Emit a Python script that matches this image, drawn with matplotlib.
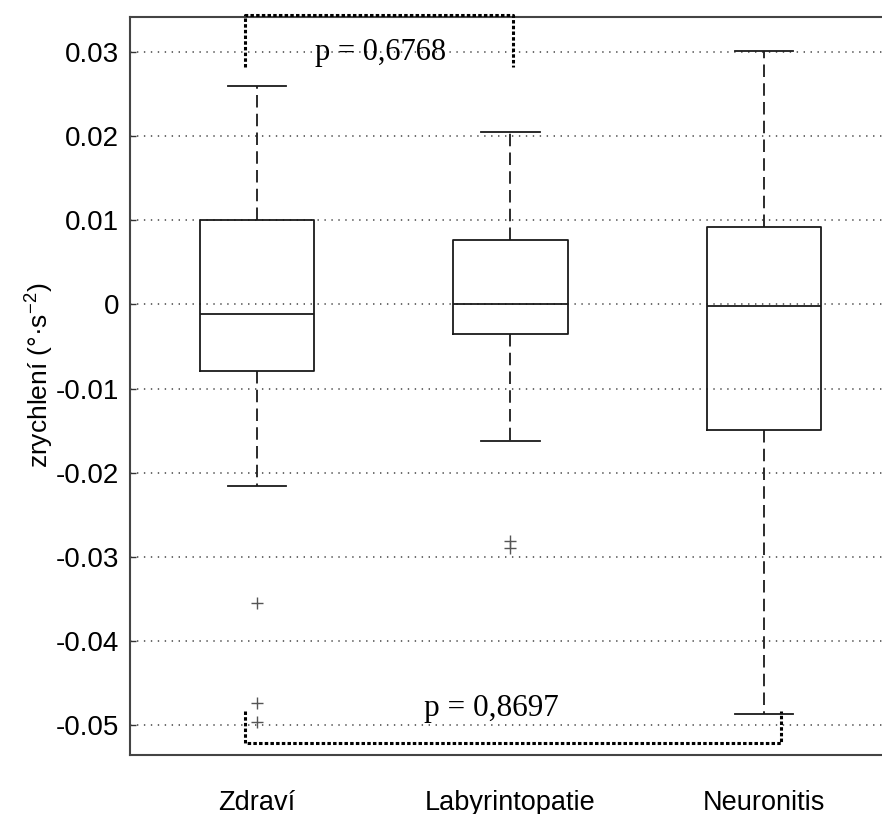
import matplotlib
matplotlib.use("Agg")
import matplotlib.pyplot as plt

plt.rcParams["font.family"] = ["Liberation Sans", "DejaVu Sans"]
plt.rcParams["axes.unicode_minus"] = False
plt.rcParams["lines.scale_dashes"] = False

# Group names and box statistics (acceleration, deg/s^2)
groups = ["Zdraví", "Labyrintopatie", "Neuronitis"]
positions = [1, 2, 3]
whisker_high = [0.0260, 0.0205, 0.0301]
q3 = [0.0100, 0.0077, 0.0092]
median = [-0.0011, 0.0000, -0.0002]
q1 = [-0.0079, -0.0035, -0.0149]
whisker_low = [-0.0216, -0.0162, -0.0487]
outliers = [[-0.0355, -0.0474, -0.0496], [-0.0281, -0.0290], []]

# Significance brackets: (x_left, x_right, y_end, y_bar, label)
bracket_top = (0.953, 2.008, 0.0282, 0.03435, "p = 0,6768")
bracket_bottom = (0.953, 3.067, -0.0483, -0.05214, "p = 0,8697")

y_ticks = [0.03, 0.02, 0.01, 0, -0.01, -0.02, -0.03, -0.04, -0.05]
y_ticklabels = ["0.03", "0.02", "0.01", "0", "-0.01", "-0.02", "-0.03", "-0.04", "-0.05"]

W, H = 882, 814
fig = plt.figure(figsize=(W / 100, H / 100), dpi=100)
ax = fig.add_axes([130 / W, 59 / H, 761 / W, 738 / H])

stats = []
for i, name in enumerate(groups):
    stats.append(dict(label=name, med=median[i], q1=q1[i], q3=q3[i],
                      whislo=whisker_low[i], whishi=whisker_high[i],
                      fliers=outliers[i]))

line_col = "#1a1a1a"
ax.bxp(stats, positions=positions, widths=0.45, capwidths=0.23,
       showfliers=True,
       boxprops=dict(color=line_col, linewidth=1.3),
       medianprops=dict(color=line_col, linewidth=1.3),
       whiskerprops=dict(color=line_col, linewidth=1.3, linestyle=(0, (9, 4.5))),
       capprops=dict(color=line_col, linewidth=1.3),
       flierprops=dict(marker="+", markersize=9, markeredgecolor="#555555",
                       markeredgewidth=1.0, linestyle="none"))

ax.set_xlim(0.5, 3.5)
ax.set_ylim(-0.05357, 0.03417)
ax.set_yticks(y_ticks)
ax.set_yticklabels(y_ticklabels, fontsize=20)
ax.tick_params(axis="y", direction="in", length=4, width=1, colors="#333333",
               labelcolor="black", pad=8)
ax.tick_params(axis="x", length=0, pad=25, labelsize=19.5)
ax.set_xticks(positions)
ax.set_xticklabels(groups)

ax.yaxis.grid(True, linestyle=(0, (1, 4)), linewidth=1.1, color="#444444")
ax.set_axisbelow(True)
for s in ax.spines.values():
    s.set_color("#444444")
    s.set_linewidth(1.5)

ax.set_ylabel("zrychlení (°·s$^{\\mathregular{-2}}$)", fontsize=19)
ax.yaxis.set_label_coords(-0.098, 0.514)

# Significance brackets
for xl, xr, yend, ybar, label in (bracket_top, bracket_bottom):
    ax.plot([xl, xl, xr, xr], [yend, ybar, ybar, yend], color="black",
            linewidth=2.2, linestyle=(0, (2.5, 1.6)), solid_capstyle="butt",
            dash_capstyle="butt", clip_on=False, zorder=5)

ax.text(1.488, 0.02905, bracket_top[4], fontsize=22, ha="center", va="baseline",
        family=["Liberation Serif", "DejaVu Serif"])
ax.text(1.925, -0.04893, bracket_bottom[4], fontsize=22.5, ha="center", va="baseline",
        family=["Liberation Serif", "DejaVu Serif"])

fig.savefig("out.png", dpi=100)
